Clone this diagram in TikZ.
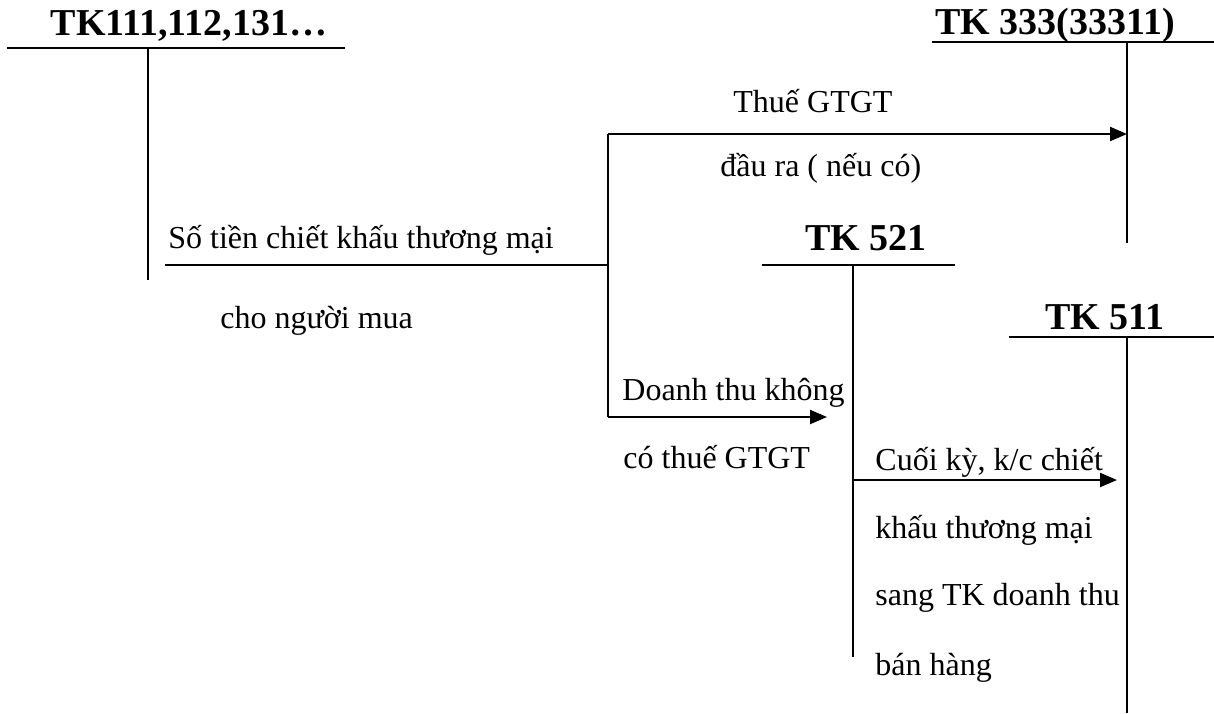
\documentclass[tikz,border=0pt]{standalone}
\usepackage{fontspec}
\setmainfont{Liberation Serif}
\usetikzlibrary{arrows.meta}
\begin{document}
\begin{tikzpicture}[x=0.5pt,y=-0.5pt,
  tline/.style={line width=0.7pt},
  flow/.style={line width=1.1pt,-{Triangle[length=8.5pt,width=7pt]}},
  branch/.style={line width=1.1pt},
  title/.style={anchor=base,inner sep=0pt,font=\fontsize{19}{22}\selectfont\bfseries},
  lbl/.style={anchor=base west,inner sep=0pt,font=\fontsize{16}{19}\selectfont}]
\useasboundingbox (0,0) rectangle (1214,713);

% T-account headings
\node[title] (h111) at (189,35) {TK111,112,131…};
\node[title] (h333) at (1055,34) {TK 333(33311)};
\node[title] (h521) at (866,250) {TK 521};
\node[title] (h511) at (1105,329) {TK 511};

% T-account frames
\coordinate (a111L) at (7,48);   \coordinate (a111R) at (345,48);
\coordinate (a111T) at (148,48); \coordinate (a111B) at (148,280);
\coordinate (a333L) at (932,42); \coordinate (a333R) at (1214,42);
\coordinate (a333T) at (1127,42); \coordinate (a333B) at (1127,243);
\coordinate (a521L) at (762,265); \coordinate (a521R) at (955,265);
\coordinate (a521T) at (853,265); \coordinate (a521B) at (853,657);
\coordinate (a511L) at (1009,337); \coordinate (a511R) at (1214,337);
\coordinate (a511T) at (1127,337); \coordinate (a511B) at (1127,713);
\foreach \t in {111,333,521,511}{
  \draw[tline] (a\t L) -- (a\t R);
  \draw[tline] (a\t T) -- (a\t B);
}

% Discount posting from TK111 and its split
\coordinate (d0) at (165,265);
\coordinate (split) at (608,265);
\coordinate (vatTop) at (608,134);
\coordinate (revBot) at (608,417);
\coordinate (vatEnd) at (1127,134);
\coordinate (revEnd) at (827,417);
\draw[tline] (d0) -- (split);
\draw[branch] (vatTop) -- (revBot);
\draw[flow] (vatTop) -- (vatEnd);
\draw[flow] (revBot) -- (revEnd);

% Year-end transfer TK521 -> TK511
\coordinate (kcStart) at (853,480);
\coordinate (kcEnd) at (1117,480);
\draw[flow] (kcStart) -- (kcEnd);

% Labels
\node[lbl] (t1) at (168,248) {Số tiền chiết khấu thương mại};
\node[lbl] (t2) at (220,328) {cho người mua};
\node[lbl] (t3) at (733,112) {Thuế GTGT};
\node[lbl] (t4) at (720,176) {đầu ra ( nếu có)};
\node[lbl] (t5) at (622,400) {Doanh thu không};
\node[lbl] (t6) at (623,468) {có thuế GTGT};
\node[lbl] (t7) at (875,470) {Cuối kỳ, k/c chiết};
\node[lbl] (t8) at (875,538) {khấu thương mại};
\node[lbl] (t9) at (875,605) {sang TK doanh thu};
\node[lbl] (t10) at (875,675) {bán hàng};
\end{tikzpicture}
\end{document}
